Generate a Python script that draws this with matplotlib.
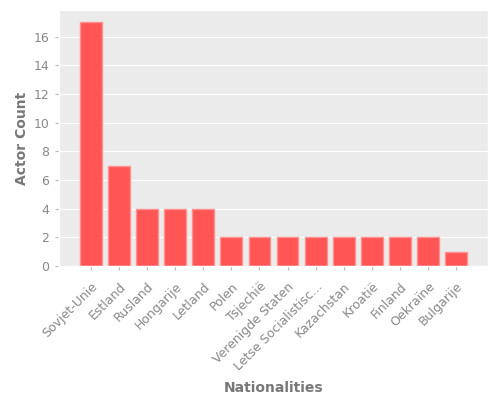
import matplotlib
matplotlib.use("Agg")
import matplotlib.pyplot as plt

plt.style.use("ggplot")

# Data
nationalities = [
    "Sovjet-Unie", "Estland", "Rusland", "Hongarije", "Letland", "Polen",
    "Tsjechië", "Verenigde Staten", "Letse Socialistisc...", "Kazachstan",
    "Kroatië", "Finland", "Oekraïne", "Bulgarije",
]
actor_counts = [17, 7, 4, 4, 4, 2, 2, 2, 2, 2, 2, 2, 2, 1]

fig = plt.figure(figsize=(5, 4), dpi=100)
ax = fig.add_axes([0.118, 0.335, 0.858, 0.64])
ax.set_facecolor("#EBEBEB")

x = range(len(nationalities))
ax.bar(x, actor_counts, width=0.78, color="#FF5555", edgecolor="#FF9090", linewidth=1)

ax.set_xticks(list(x))
ax.set_xticklabels(nationalities, rotation=45, ha="right", rotation_mode="anchor",
                   fontsize=9)
ax.tick_params(axis="y", labelsize=9)
ax.tick_params(colors="#BBBBBB", which="both", length=3, pad=4)
ax.tick_params(axis="x", pad=7)
for lbl in ax.get_xticklabels() + ax.get_yticklabels():
    lbl.set_color("#888888")
ax.set_yticks(range(0, 17, 2))
ax.set_xlim(-1.14, len(nationalities) - 1 + 1.14)
ax.grid(axis="x", visible=False)

ax.set_xlabel("Nationalities", fontsize=10, fontweight="bold", color="#777777", labelpad=6)
ax.set_ylabel("Actor Count", fontsize=10, fontweight="bold", color="#777777", labelpad=3)

fig.savefig("out.png", dpi=100)
